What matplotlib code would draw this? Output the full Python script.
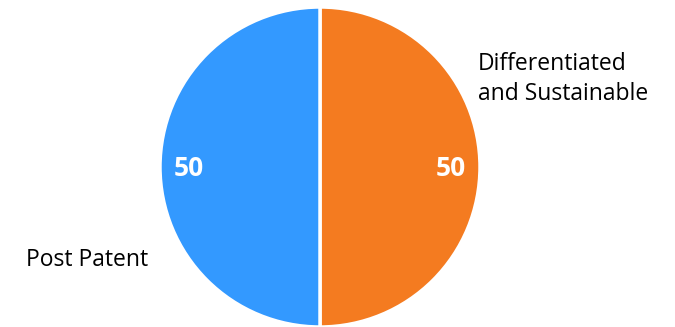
import matplotlib.pyplot as plt

labels = ["Differentiated\nand Sustainable", "Post Patent"]
values = [50, 50]
colors = ["#F47B20", "#3399FF"]

plt.rcParams['font.family'] = ['Open Sans', 'DejaVu Sans']

fig = plt.figure(figsize=(6.75, 3.27), dpi=100)
ax = fig.add_axes([160 / 675, 0.0, 320 / 675, 320 / 327])

wedges, _ = ax.pie(values, colors=colors, startangle=90, counterclock=False,
                   radius=1, wedgeprops={"edgecolor": "white", "linewidth": 2.5})
ax.set_xlim(-1, 1)
ax.set_ylim(-1, 1)
ax.set_aspect("equal")

# values inside the slices
ax.text(0.82, -0.01, str(values[0]), color="white", fontsize=19, fontweight="bold",
        ha="center", va="center")
ax.text(-0.82, -0.01, str(values[1]), color="white", fontsize=19, fontweight="bold",
        ha="center", va="center")

# outside labels
fig.text(478 / 675, 1 - 79 / 327, labels[0], fontsize=16.5, ha="left", va="center",
         linespacing=1.3)
fig.text(26 / 675, 1 - 260 / 327, labels[1], fontsize=16.5, ha="left", va="center")

fig.savefig("out.png", dpi=100)
